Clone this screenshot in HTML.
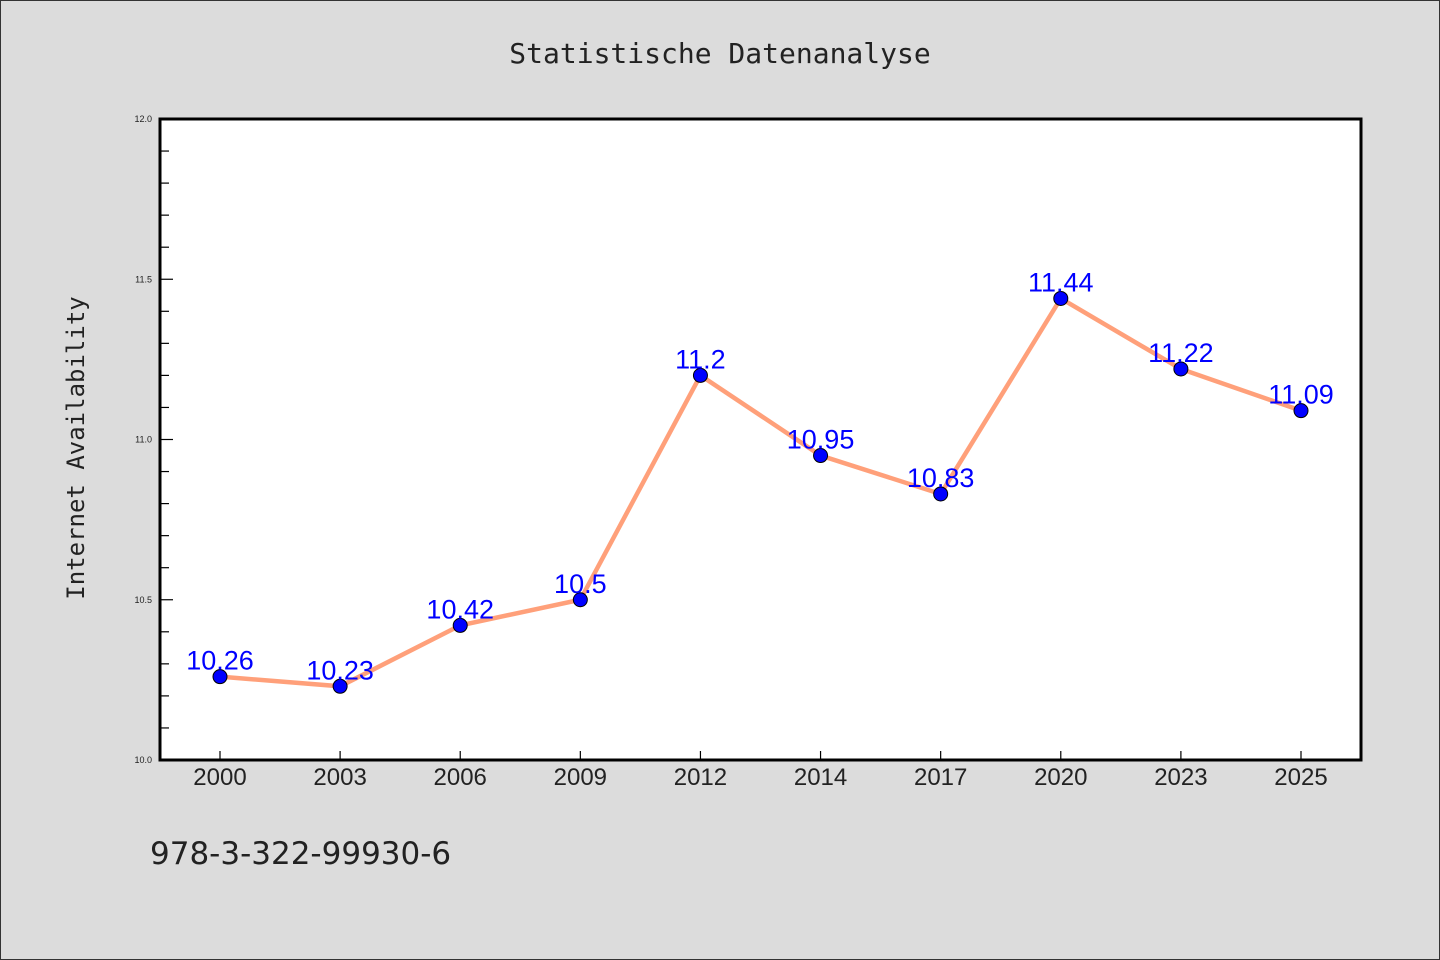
<!DOCTYPE html>
<html><head><meta charset="utf-8"><style>
body{margin:0;background:#dcdcdc;}
svg{display:block;font-family:"Liberation Sans","DejaVu Sans",sans-serif;}
</style></head><body>
<svg id="chart" width="1440" height="960">
<rect x="0.5" y="0.5" width="1439" height="959" fill="#dcdcdc" stroke="#333"/>
<text x="720" y="63" text-anchor="middle" font-size="28" font-family="'DejaVu Sans Mono','Liberation Mono',monospace" fill="#222">Statistische Datenanalyse</text>
<rect x="160" y="119" width="1201" height="641" fill="#fff"/>
<g id="yaxis"></g><g id="xaxis"></g>
<path d="M160,119 H1361 V760 H160 Z" fill="none" stroke="#000" stroke-width="3"/>
<g id="series"></g>
<text transform="translate(84,448) rotate(-90)" text-anchor="middle" font-size="24" font-family="'DejaVu Sans Mono','Liberation Mono',monospace" fill="#222">Internet Availability</text>
<text x="150" y="864" font-size="31" font-family="'DejaVu Sans','Liberation Sans',sans-serif" fill="#222">978-3-322-99930-6</text>
</svg>
<script>
const categories=["2000","2003","2006","2009","2012","2014","2017","2020","2023","2025"];
const values=[10.26,10.23,10.42,10.5,11.2,10.95,10.83,11.44,11.22,11.09];
const yTickLabels=["10.0","10.5","11.0","11.5","12.0"];
const yMin=10,yMax=12;
const NS="http://www.w3.org/2000/svg";
const L=160,R=1361,T=119,B=760;
function y(v){return B-(v-yMin)/(yMax-yMin)*(B-T);}
function x(i){return 220+i*(R-L-120)/(categories.length-1);}
function mk(tag,a,p){const e=document.createElementNS(NS,tag);for(const k in a)e.setAttribute(k,a[k]);p.appendChild(e);return e;}
const ya=document.getElementById('yaxis'),xa=document.getElementById('xaxis'),sg=document.getElementById('series');
for(let k=0;k<=20;k++){const v=yMin+k*0.1;const major=k%5===0;
 const t=mk('line',{x1:L,x2:L+(major?13:9),y1:y(v),y2:y(v),stroke:'#000','stroke-width':1.2},ya);
 
 }
yTickLabels.forEach(s=>{const t=mk('text',{x:152,y:y(parseFloat(s))+3,'text-anchor':'end','font-size':9,fill:'#222'},ya);t.textContent=s;
 
 });
categories.forEach((c,i)=>{const t=mk('line',{x1:x(i),x2:x(i),y1:B,y2:B-9,stroke:'#000','stroke-width':1.2},xa);
 
 
 const l=mk('text',{x:x(i),y:785,'text-anchor':'middle','font-size':24,fill:'#222'},xa);l.textContent=c;
 
 });
const line=mk('polyline',{points:values.map((v,i)=>x(i)+','+y(v)).join(' '),fill:'none',stroke:'#ffa07a','stroke-width':4.5},sg);


values.forEach((v,i)=>{const c=mk('circle',{cx:x(i),cy:y(v),r:7,fill:'#0000ff',stroke:'#000','stroke-width':1},sg);
 
 
 const t=mk('text',{x:x(i),y:y(v)-7,'text-anchor':'middle','font-size':27,fill:'#0000ff'},sg);t.textContent=String(v);
 
 });
</script>
</body></html>
